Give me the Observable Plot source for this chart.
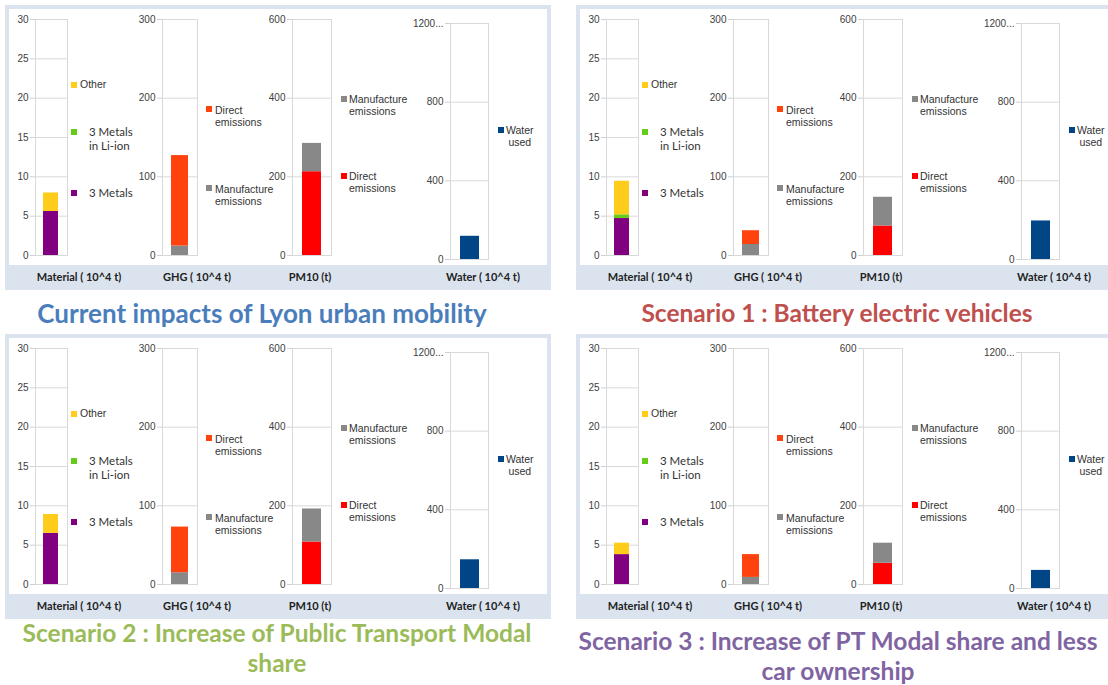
<!DOCTYPE html>
<html><head><meta charset="utf-8">
<script src="https://cdn.jsdelivr.net/npm/d3@7"></script>
<script src="https://cdn.jsdelivr.net/npm/@observablehq/plot@0.6"></script>
<style>
body{margin:0;background:#fff;}
#root{position:relative;width:1108px;height:685px;overflow:hidden;font-family:"Liberation Sans",Arial,sans-serif;}
.abs{position:absolute;}
.sq{position:absolute;width:6px;height:6px;}
.lg{position:absolute;font-size:10.5px;line-height:12px;color:#333;white-space:nowrap;}
.lg.cal{font-family:Lato,"Open Sans",sans-serif;font-size:11.5px;line-height:14px;color:#333;}
.cat{position:absolute;font-family:Lato,sans-serif;font-weight:700;font-size:11px;color:#222;text-align:center;width:140px;white-space:nowrap;}
.title{position:absolute;font-family:Lato,"Open Sans",sans-serif;font-weight:700;font-size:24.5px;line-height:30px;text-align:center;white-space:nowrap;}
</style></head><body><div id="root"></div><script>
// ---------- data ----------
const categories = ["Material ( 10^4 t)", "GHG ( 10^4 t)", "PM10 (t)", "Water ( 10^4 t)"];
const titleLines = [
  ["Current impacts of Lyon urban mobility"],
  ["Scenario 1 : Battery electric vehicles"],
  ["Scenario 2 : Increase of Public Transport Modal", "share"],
  ["Scenario 3 : Increase of PT Modal share and less", "car ownership"]
];
const titleColors = ["#4a7ebb", "#c0504d", "#9bbb59", "#8064a2"];

const matSeries = ["3 Metals", "3 Metals in Li-ion", "Other"];
const matColors = ["#800080", "#66cc1a", "#ffcc1a"];
const metals3 = [5.6, 4.7, 6.5, 3.8];
const metalsLiIon = [0, 0.47, 0, 0];
const otherMaterial = [2.35, 4.27, 2.4, 1.45];
const matTicks = [0, 5, 10, 15, 20, 25, 30];

const ghgSeries = ["Manufacture emissions", "Direct emissions"];
const ghgColors = ["#888888", "#ff420e"];
const ghgManufacture = [12, 14, 15, 9];
const ghgDirect = [115, 17.5, 58, 29];
const ghgTicks = [0, 100, 200, 300];

const pmSeries = ["Direct emissions", "Manufacture emissions"];
const pmColors = ["#ff0000", "#888888"];
const pmDirect = [213, 75, 108, 54];
const pmManufacture = [72, 73, 84, 51];
const pmTicks = [0, 200, 400, 600];

const waterSeries = ["Water used"];
const waterColors = ["#004586"];
const waterUsed = [118, 196, 146, 92];
const waterTicks = [0, 400, 800, 1200];
const waterTickLabels = ["0", "400", "800", "1200..."];

// ---------- layout ----------
const root = document.getElementById("root");
const panelOffsets = [[0, 0], [571, 0], [0, 329], [571, 329]];

function el(cls, x, y, css, html) {
  const d = document.createElement("div");
  d.className = cls;
  d.style.left = x + "px"; d.style.top = y + "px";
  Object.assign(d.style, css || {});
  if (html != null) d.innerHTML = html;
  root.appendChild(d);
  return d;
}

function subplot(cat, rows, series, colors, ticks, fmt, frameL, frameR, yTop, y0) {
  const mL = 40, mT = 8, mB = 6, mR = 1;
  const w = (frameR - frameL) + mL + mR;
  const h = (y0 - yTop) + mT + mB;
  const chart = Plot.plot({
    width: w, height: h, marginLeft: mL, marginRight: mR, marginTop: mT, marginBottom: mB,
    style: {background: "transparent", fontSize: "10px", fontFamily: "'Liberation Sans', Arial, sans-serif", color: "#404040", overflow: "visible"},
    x: {type: "band", domain: [cat], padding: 1/3, axis: null},
    y: {domain: [0, ticks[ticks.length - 1]], axis: null},
    color: {domain: series, range: colors},
    marks: [
      Plot.gridY({ticks, stroke: "#d9d9d9", strokeOpacity: 1}),
      Plot.frame({anchor: "left", stroke: "#d9d9d9"}),
      Plot.frame({anchor: "right", stroke: "#d9d9d9"}),
      Plot.barY(rows, {x: "cat", y: "value", fill: "series", order: series}),
      Plot.axisY({ticks, tickFormat: fmt, tickSize: 5, tickPadding: 2, stroke: "#d0d0d0", label: null})
    ]
  });
  chart.style.position = "absolute";
  chart.style.left = (frameL - mL) + "px";
  chart.style.top = (yTop - mT) + "px";
  root.appendChild(chart);
}

function legend(x0, y0, sqx, sqy, tx, lines, ty, color, cls, center) {
  el("sq", x0 + sqx, y0 + sqy - 3, {background: color});
  const d = el("lg" + (cls ? " " + cls : ""), x0 + tx, y0 + ty, {}, lines.join("<br>"));
  if (center) d.style.textAlign = "center";
}

panelOffsets.forEach(([dx, dy], i) => {
  // panel frame
  el("abs", 5 + dx, 5 + dy, {width: (i % 2 ? 537 : 546) + "px", height: "285px", background: "#dbe4ee"});
  el("abs", 9 + dx, 9 + dy, {width: (i % 2 ? 529 : 538) + "px", height: "256px", background: "#ffffff"});

  // Material
  const matRows = [
    {cat: categories[0], series: matSeries[0], value: metals3[i]},
    {cat: categories[0], series: matSeries[1], value: metalsLiIon[i]},
    {cat: categories[0], series: matSeries[2], value: otherMaterial[i]}
  ];
  subplot(categories[0], matRows, matSeries, matColors, matTicks, d => String(d), 35 + dx, 67 + dx, 19 + dy, 255 + dy);
  // GHG
  const ghgRows = [
    {cat: categories[1], series: ghgSeries[0], value: ghgManufacture[i]},
    {cat: categories[1], series: ghgSeries[1], value: ghgDirect[i]}
  ];
  subplot(categories[1], ghgRows, ghgSeries, ghgColors, ghgTicks, d => String(d), 162 + dx, 197 + dx, 19 + dy, 255 + dy);
  // PM10
  const pmRows = [
    {cat: categories[2], series: pmSeries[0], value: pmDirect[i]},
    {cat: categories[2], series: pmSeries[1], value: pmManufacture[i]}
  ];
  subplot(categories[2], pmRows, pmSeries, pmColors, pmTicks, d => String(d), 292 + dx, 331 + dx, 19 + dy, 255 + dy);
  // Water
  const waterRows = [{cat: categories[3], series: waterSeries[0], value: waterUsed[i]}];
  subplot(categories[3], waterRows, waterSeries, waterColors, waterTicks, d => waterTickLabels[waterTicks.indexOf(d)], 450 + dx, 488 + dx, 23 + dy, 259 + dy);

  // legends
  legend(dx, dy, 71, 85, 80, ["Other"], 78, matColors[2]);
  legend(dx, dy, 71, 132, 89, ["3 Metals", "in Li-ion"], 125, matColors[1], "cal");
  legend(dx, dy, 71, 193, 89, ["3 Metals"], 186, matColors[0], "cal");
  legend(dx, dy, 206, 109, 215, ["Direct", "emissions"], 104, ghgColors[1]);
  legend(dx, dy, 206, 188, 215, ["Manufacture", "emissions"], 183, ghgColors[0]);
  legend(dx, dy, 341, 99, 349, ["Manufacture", "emissions"], 93, pmColors[1]);
  legend(dx, dy, 341, 176, 349, ["Direct", "emissions"], 170, pmColors[0]);
  legend(dx, dy, 498, 130, 506, ["Water", "used"], 124, waterColors[0], null, true);

  // category band labels
  const catCenters = [79, 197, 310, 483];
  categories.forEach((c, k) => el("cat", catCenters[k] - 70 + dx, 270 + dy, {}, c));

  // title
  const tl = titleLines[i];
  const tcx = [262, 837, 277, 838][i];
  const tTop = i < 2 ? 298 : (i === 2 ? 618 : 626);
  const tSize = i === 0 ? "26px" : "24.5px";
  el("title", tcx - 300, tTop, {width: "600px", color: titleColors[i], fontSize: tSize}, tl.join("<br>"));
});
</script></body></html>
